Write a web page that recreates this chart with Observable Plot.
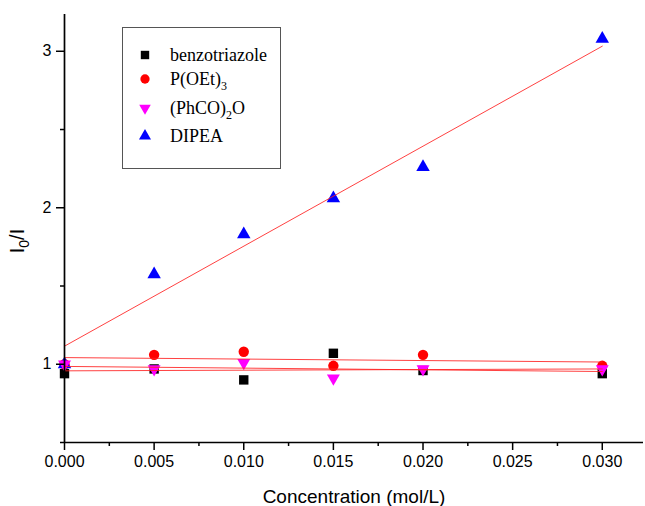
<!DOCTYPE html>
<html>
<head>
<meta charset="utf-8">
<script src="https://cdn.jsdelivr.net/npm/d3@7"></script>
<script src="https://cdn.jsdelivr.net/npm/@observablehq/plot@0.6"></script>
<style>
  html, body { margin: 0; padding: 0; background: #fff; }
  #chart { width: 645px; height: 506px; }
</style>
</head>
<body>
<div id="chart"></div>
<script>
// ---- data ----
const concentrations = [0, 0.005, 0.010, 0.015, 0.020, 0.030];
const benzotriazole = [0.94, 0.97, 0.90, 1.07, 0.96, 0.94];
const pOEt3 = [1.00, 1.06, 1.08, 0.99, 1.06, 0.99];
const phco2o = [1.00, 0.97, 1.01, 0.91, 0.97, 0.97];
const dipea = [1.00, 1.575, 1.83, 2.06, 2.26, 3.08];
const seriesNames = ["benzotriazole", "P(OEt)3", "(PhCO)2O", "DIPEA"];
const xTicks = [0, 0.005, 0.010, 0.015, 0.020, 0.025, 0.030];
const xMinorTicks = [0.0025, 0.0075, 0.0125, 0.0175, 0.0225, 0.0275];
const yTicks = [1, 2, 3];
const yMinorTicks = [0.5, 1.5, 2.5];

const seriesValues = [benzotriazole, pOEt3, phco2o, dipea];
const rows = [];
seriesNames.forEach((name, i) => {
  concentrations.forEach((c, j) => rows.push({series: name, x: c, y: seriesValues[i][j]}));
});
const of = (name) => rows.filter(d => d.series === name);

const triangleDown = {
  draw(ctx, size) {
    const y = Math.sqrt(size / (3 * Math.sqrt(3)));
    ctx.moveTo(0, 2 * y);
    ctx.lineTo(-Math.sqrt(3) * y, -y);
    ctx.lineTo(Math.sqrt(3) * y, -y);
    ctx.closePath();
  }
};

const styles = {
  "benzotriazole": {symbol: "square", fill: "#000000", r: 5.3},
  "P(OEt)3": {symbol: "circle", fill: "#ff0000", r: 5.2},
  "(PhCO)2O": {symbol: triangleDown, fill: "#ff00ff", r: 4.8},
  "DIPEA": {symbol: "triangle", fill: "#0000ff", r: 5.0}
};
const drawOrder = ["benzotriazole", "P(OEt)3", "DIPEA", "(PhCO)2O"];

const chart = Plot.plot({
  width: 645,
  height: 506,
  marginLeft: 64,
  marginRight: 2,
  marginTop: 14,
  marginBottom: 64,
  style: {fontFamily: "'Liberation Sans', Arial, sans-serif", color: "#000", background: "#fff"},
  x: {domain: [0, 0.0323]},
  y: {domain: [0.5, 3.235]},
  marks: [
    ...drawOrder.map(name => Plot.dot(of(name), {
      x: "x", y: "y",
      symbol: styles[name].symbol,
      fill: styles[name].fill,
      r: styles[name].r,
      stroke: "none"
    })),
    ...seriesNames.map(name => Plot.linearRegressionY(of(name), {
      x: "x", y: "y", ci: 0, stroke: "#ff2020", strokeWidth: 1, strokeOpacity: 0.85
    })),
    Plot.ruleX([0], {stroke: "#000", strokeWidth: 1.7}),
    Plot.ruleY([0.5], {stroke: "#000", strokeWidth: 1.7}),
    Plot.axisX({ticks: xTicks, tickSize: 8, tickPadding: 5, tickFormat: d3.format(".3f"),
      fontSize: 16, label: null, strokeWidth: 1.5}),
    Plot.axisX({ticks: xMinorTicks, tickSize: 4, tickFormat: () => "", label: null, strokeWidth: 1.5}),
    Plot.axisY({ticks: yTicks, tickSize: 8, tickPadding: 5, tickFormat: d3.format("d"),
      fontSize: 16, label: null, strokeWidth: 1.5}),
    Plot.axisY({ticks: yMinorTicks, tickSize: 4, tickFormat: () => "", label: null, strokeWidth: 1.5})
  ]
});

document.getElementById("chart").appendChild(chart);

const svg = d3.select(chart);

// x axis title
svg.append("text")
  .attr("x", 354).attr("y", 503)
  .attr("text-anchor", "middle")
  .attr("font-family", "'Liberation Sans', Arial, sans-serif")
  .attr("font-size", 19)
  .attr("fill", "#000")
  .text("Concentration (mol/L)");

// y axis title I0/I
const yt = svg.append("text")
  .attr("transform", "translate(24,241) rotate(-90)")
  .attr("text-anchor", "middle")
  .attr("font-family", "'Liberation Sans', Arial, sans-serif")
  .attr("font-size", 20)
  .attr("fill", "#000");
yt.append("tspan").text("I");
yt.append("tspan").attr("font-size", 14).attr("dy", 5).text("0");
yt.append("tspan").attr("dy", -5).text("/I");

// legend
const lg = svg.append("g").attr("transform", "translate(122,27)");
lg.append("rect").attr("x", 0.5).attr("y", 0.5).attr("width", 158).attr("height", 141)
  .attr("fill", "#fff").attr("stroke", "#555").attr("stroke-width", 1);
const legendRows = [
  {name: "benzotriazole", y: 28, parts: [["benzotriazole", false]]},
  {name: "P(OEt)3", y: 52, parts: [["P(OEt)", false], ["3", true]]},
  {name: "(PhCO)2O", y: 81, parts: [["(PhCO)", false], ["2", true], ["O", false]]},
  {name: "DIPEA", y: 109, parts: [["DIPEA", false]]}
];
legendRows.forEach(row => {
  const st = styles[row.name];
  const sym = typeof st.symbol === "string"
    ? {square: d3.symbolSquare, circle: d3.symbolCircle, triangle: d3.symbolTriangle}[st.symbol]
    : st.symbol;
  lg.append("path")
    .attr("transform", `translate(23,${row.y})`)
    .attr("d", d3.symbol(sym, st.r * st.r * Math.PI * 0.8)())
    .attr("fill", st.fill);
  const t = lg.append("text")
    .attr("x", 48).attr("y", row.y + 6)
    .attr("text-anchor", "start")
    .attr("font-family", "'Liberation Serif', 'Times New Roman', serif")
    .attr("font-size", 18)
    .attr("fill", "#000");
  let shifted = false;
  row.parts.forEach(([s, sub]) => {
    const ts = t.append("tspan").text(s);
    if (sub) { ts.attr("font-size", 12).attr("dy", 5); shifted = true; }
    else if (shifted) { ts.attr("dy", -5); shifted = false; }
  });
});
</script>
</body>
</html>
